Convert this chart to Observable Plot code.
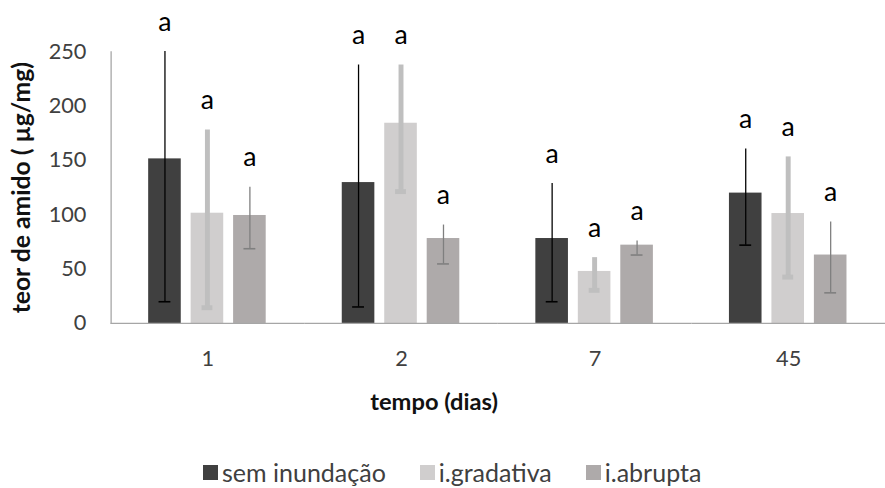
<!DOCTYPE html>
<html>
<head>
<meta charset="utf-8">
<script src="https://cdn.jsdelivr.net/npm/d3@7"></script>
<script src="https://cdn.jsdelivr.net/npm/@observablehq/plot@0.6"></script>
<style>
  html, body { margin: 0; padding: 0; background: #fff; overflow: hidden; }
  #wrap { position: relative; width: 885px; height: 488px; overflow: hidden; font-family: Lato, "Open Sans", sans-serif; }
  #chart { position: absolute; left: 0; top: 0; }
  #legend { position: absolute; left: 203px; top: 457px; display: flex; align-items: center; white-space: nowrap; font-size: 25px; line-height: 30px; color: #404040; }
  .item { display: flex; align-items: center; margin-right: 34px; }
  .sw { width: 15px; height: 15px; margin-right: 4px; }
</style>
</head>
<body>
<div id="wrap"><div id="chart"></div><div id="legend"></div></div>
<script>
// categories
const groups = ["1", "2", "7", "45"];
const series = ["sem inundação", "i.gradativa", "i.abrupta"];
const colors = ["#404040", "#d0cece", "#aeaaaa"];
const yTicks = [0, 50, 100, 150, 200, 250];

// mean values per series (one per group)
const meanSem = [151.5, 129.7, 78.2, 120.0];
const meanGrad = [101.5, 184.3, 47.9, 101.2];
const meanAbr = [99.4, 78.2, 72.1, 63.0];

// error bar ends
const lowSem = [20, 15.2, 20, 72.1];
const highSem = [250.3, 237.9, 128.8, 160.6];
const lowGrad = [14.5, 121.4, 30.5, 42.7];
const highGrad = [178, 237.9, 60.6, 153.3];
const lowAbr = [68.8, 54.8, 63, 28.2];
const highAbr = [125.5, 90.6, 76, 93.4];

// significance letters
const letSem = ["a", "a", "a", "a"];
const letGrad = ["a", "a", "a", "a"];
const letAbr = ["a", "a", "a", "a"];

const xTitle = "tempo (dias)";
const yTitle = "teor de amido ( µg/mg)";

const table = [
  [meanSem, lowSem, highSem, letSem],
  [meanGrad, lowGrad, highGrad, letGrad],
  [meanAbr, lowAbr, highAbr, letAbr]
];
const rows = [];
series.forEach((s, i) => {
  groups.forEach((g, j) => {
    rows.push({group: g, series: s, mean: table[i][0][j], low: table[i][1][j], high: table[i][2][j], letter: table[i][3][j]});
  });
});

const errStyle = [
  {stroke: "#000000", lw: 1.3, cw: 1.6, inset: 10.5},
  {stroke: "#bfbfbf", lw: 5, cw: 5, inset: 11},
  {stroke: "#7f7f7f", lw: 1.3, cw: 1.6, inset: 10.5}
];

const W = 896, H = 430;
const errMarks = [];
series.forEach((s, i) => {
  const d = rows.filter(r => r.series === s);
  const st = errStyle[i];
  errMarks.push(Plot.ruleX(d, {fx: "group", x: "series", y1: "low", y2: "high", stroke: st.stroke, strokeWidth: st.lw}));
  errMarks.push(Plot.tickY(d, {fx: "group", x: "series", y: "low", stroke: st.stroke, strokeWidth: st.cw, insetLeft: st.inset, insetRight: st.inset}));
});

const chart = Plot.plot({
  width: W,
  height: H,
  marginLeft: 111,
  marginRight: 0,
  marginTop: 52,
  marginBottom: H - 327,
  style: {fontFamily: "Lato, 'Open Sans', sans-serif", background: "transparent", overflow: "visible"},
  fx: {domain: groups, padding: 0, label: null},
  x: {domain: series, paddingInner: 0.227, paddingOuter: 0.8435, axis: null},
  y: {domain: [0, 250], label: null},
  color: {domain: series, range: colors},
  marks: [
    Plot.barY(rows, {fx: "group", x: "series", y: "mean", fill: "series"}),
    ...errMarks,
    Plot.ruleY([0], {stroke: "#a6a6a6", strokeWidth: 1.3}),
    Plot.frame({anchor: "left", stroke: "#a6a6a6", strokeWidth: 1.3, facetAnchor: "left"}),
    Plot.axisY({ticks: yTicks, tickSize: 0, tickPadding: 25, fontSize: 22, color: "#404040", label: null}),
    Plot.axisY({ticks: [], tickSize: 0, label: yTitle, labelAnchor: "center", labelArrow: "none", labelOffset: 100, fontSize: 25, fontWeight: "bold", color: "#111"}),
    Plot.axisFx({anchor: "bottom", tickSize: 0, tickPadding: 27, fontSize: 22, color: "#404040", label: null}),
    Plot.text(rows, {fx: "group", x: "series", y: "high", text: "letter", lineAnchor: "bottom", dy: -21, fontSize: 27, fill: "#000"}),
    Plot.text([xTitle], {frameAnchor: "bottom", dx: -65, dy: 71, lineAnchor: "top", fontSize: 24, fontWeight: "bold", fill: "#111", facet: "super"})
  ]
});
document.getElementById("chart").appendChild(chart);

const legend = document.getElementById("legend");
series.forEach((s, i) => {
  const it = document.createElement("div");
  it.className = "item";
  const sw = document.createElement("span");
  sw.className = "sw";
  sw.style.background = colors[i];
  const tx = document.createElement("span");
  tx.textContent = s;
  it.appendChild(sw);
  it.appendChild(tx);
  legend.appendChild(it);
});
</script>
</body>
</html>
